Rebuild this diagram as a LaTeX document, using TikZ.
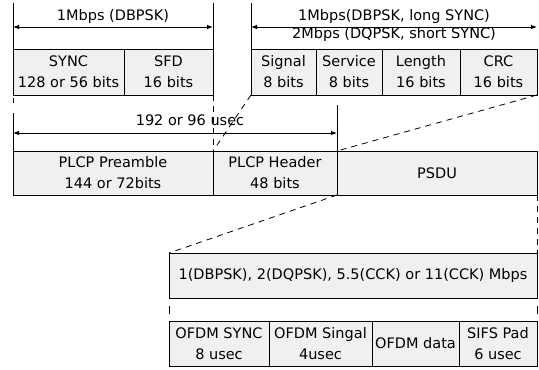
\documentclass[tikz,border=0pt]{standalone}
\usepackage{fontspec}
\setmainfont{DejaVu Sans}
\usetikzlibrary{arrows.meta}
\begin{document}
\begin{tikzpicture}[x=1pt,y=-1pt,
  cell/.style={draw=black, line width=1pt, fill=black!6, inner sep=0pt, outer sep=0pt,
    anchor=north west, align=center, font=\fontsize{14.5}{21}\selectfont},
  lbl/.style={inner sep=0pt, anchor=base, font=\fontsize{14.5}{18}\selectfont},
  dim/.style={line width=0.9pt, {Latex[length=6pt,width=4.5pt]}-{Latex[length=6pt,width=4.5pt]}},
  ext/.style={line width=0.9pt},
  guide/.style={line width=0.8pt, dash pattern=on 6pt off 5pt}]
\useasboundingbox (0,0) rectangle (539,370);

% top row
\node[cell, minimum width=111pt, minimum height=46pt] (sync) at (13,49) {SYNC\\128 or 56 bits};
\node[cell, minimum width=89pt, minimum height=46pt] (sfd) at (124,49) {SFD\\16 bits};
\node[cell, minimum width=65pt, minimum height=46pt] (signal) at (251,49) {Signal\\8 bits};
\node[cell, minimum width=66pt, minimum height=46pt] (service) at (316,49) {Service\\8 bits};
\node[cell, minimum width=78pt, minimum height=46pt] (length) at (382,49) {Length\\16 bits};
\node[cell, minimum width=77pt, minimum height=46pt] (crc) at (460,49) {CRC\\16 bits};

% middle row
\node[cell, minimum width=200pt, minimum height=44pt] (pre) at (13,151) {PLCP Preamble\\144 or 72bits};
\node[cell, minimum width=124pt, minimum height=44pt] (header) at (213,151) {PLCP Header\\48 bits};
\node[cell, minimum width=200pt, minimum height=44pt] (psdu) at (337,151) {PSDU};

% bottom
\node[cell, minimum width=368pt, minimum height=45pt] (big) at (169,253) {1(DBPSK), 2(DQPSK), 5.5(CCK) or 11(CCK) Mbps};
\node[cell, minimum width=100pt, minimum height=45pt] (o1) at (169,321) {OFDM SYNC\\8 usec};
\node[cell, minimum width=103pt, minimum height=45pt] (o2) at (269,321) {OFDM Singal\\4usec};
\node[cell, minimum width=87pt, minimum height=45pt] (o3) at (372,321) {OFDM data};
\node[cell, minimum width=78pt, minimum height=45pt] (o4) at (459,321) {SIFS Pad\\6 usec};

% top dimension lines
\coordinate (a1) at (13,3);
\coordinate (a2) at (213,3);
\coordinate (a3) at (251,3);
\draw[ext] (a1) -- (sync.north west);
\draw[ext] (a2) -- (sfd.north east);
\draw[ext] (a3) -- (signal.north west);
\coordinate (d1l) at (13,27);
\coordinate (d1r) at (213,27);
\coordinate (d2l) at (251,27);
\coordinate (d2r) at (537,27);
\draw[dim] (d1l) -- (d1r);
\draw[dim] (d2l) -- (d2r);
\node[lbl] (t1) at (113,20) {1Mbps (DBPSK)};
\node[lbl] (t2) at (394,20) {1Mbps(DBPSK, long SYNC)};
\node[lbl] (t3) at (394,38) {2Mbps (DQPSK, short SYNC)};

% middle dimension
\coordinate (m1) at (13,133);
\coordinate (m2) at (337,133);
\coordinate (m3) at (337,105);
\draw[ext, dash pattern=on 0pt off 3pt on 5pt off 10pt on 40pt] (sync.south west) -- (pre.north west);
\draw[ext] (m3) -- (header.north east);
\draw[dim] (m1) -- (m2);
\node[lbl] (t4) at (190,125) {192 or 96 usec};

% guides
\draw[guide] (sfd.south east) -- (header.north west);
\draw[guide] (signal.south west) -- (header.north west);
\draw[guide] (crc.south east) -- (psdu.north west);
\draw[guide] (psdu.south west) -- (big.north west);
\draw[guide] (psdu.south east) -- (big.north east);
\draw[ext, dash pattern=on 0pt off 8pt on 8pt off 20pt] (big.south west) -- (o1.north west);
\draw[ext, dash pattern=on 0pt off 8pt on 8pt off 20pt] (big.south east) -- (o4.north east);
\end{tikzpicture}
\end{document}
